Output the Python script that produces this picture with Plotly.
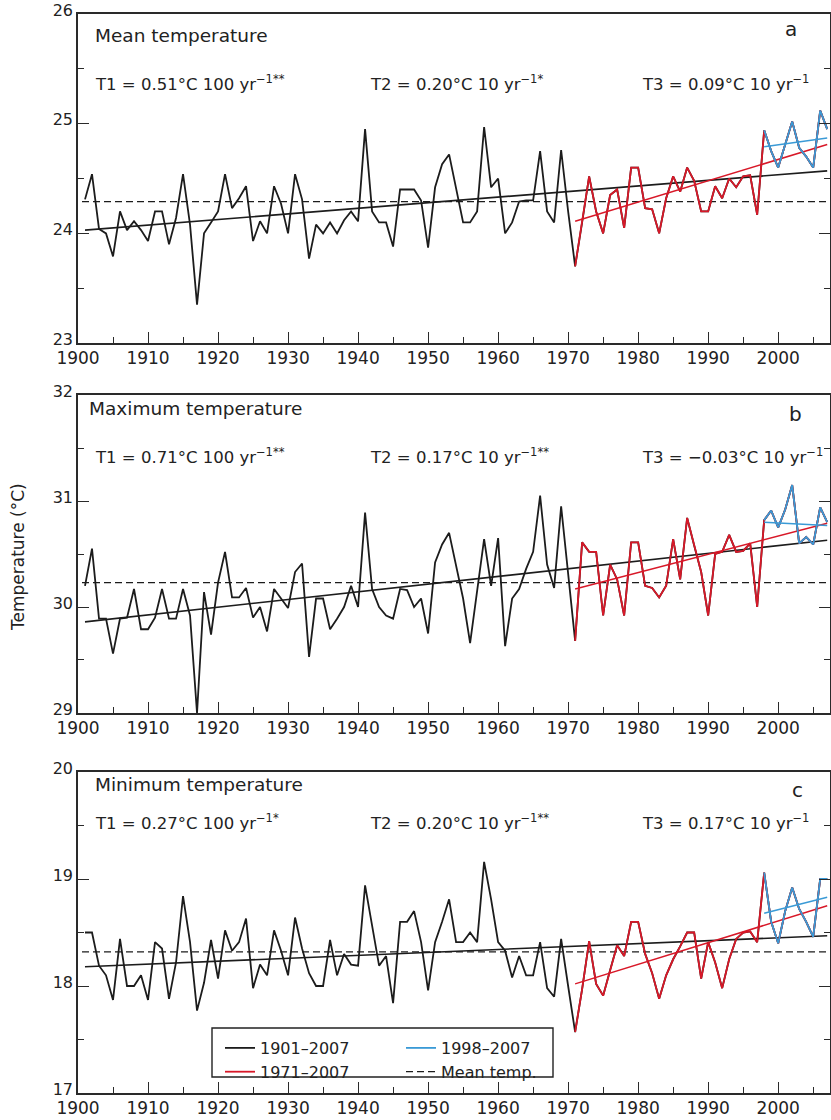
import plotly.graph_objects as go

# ---------------- data ----------------
years = list(range(1901, 2008))

mean_temp = [24.31, 24.54, 24.04, 24.00, 23.79, 24.20, 24.03, 24.11, 24.03, 23.93,
             24.20, 24.20, 23.90, 24.14, 24.54, 24.08, 23.35, 24.00, 24.10, 24.20,
             24.54, 24.23, 24.32, 24.43, 23.93, 24.11, 24.00, 24.43, 24.27, 24.00,
             24.54, 24.31, 23.77, 24.08, 24.00, 24.10, 24.00, 24.12, 24.20, 24.11,
             24.95, 24.20, 24.10, 24.10, 23.88, 24.40, 24.40, 24.40, 24.30, 23.87,
             24.42, 24.63, 24.72, 24.40, 24.10, 24.10, 24.20, 24.97, 24.42, 24.50,
             24.00, 24.10, 24.29, 24.30, 24.30, 24.75, 24.20, 24.10, 24.76, 24.20,
             23.70, 24.10, 24.52, 24.20, 24.00, 24.35, 24.40, 24.05, 24.60, 24.60,
             24.23, 24.22, 24.00, 24.32, 24.52, 24.38, 24.60, 24.48, 24.20, 24.20,
             24.43, 24.32, 24.50, 24.42, 24.52, 24.53, 24.17, 24.94, 24.75, 24.60,
             24.82, 25.02, 24.78, 24.70, 24.60, 25.12, 24.95]

max_temp = [30.20, 30.55, 29.89, 29.89, 29.56, 29.89, 29.90, 30.17, 29.79, 29.79,
            29.90, 30.17, 29.89, 29.89, 30.17, 29.92, 29.00, 30.14, 29.74, 30.23,
            30.52, 30.09, 30.09, 30.18, 29.90, 30.00, 29.77, 30.17, 30.08, 29.99,
            30.33, 30.41, 29.53, 30.08, 30.08, 29.79, 29.89, 30.00, 30.20, 30.00,
            30.89, 30.17, 30.00, 29.92, 29.89, 30.17, 30.16, 30.00, 30.08, 29.75,
            30.42, 30.59, 30.70, 30.40, 30.08, 29.66, 30.14, 30.64, 30.20, 30.65,
            29.63, 30.08, 30.17, 30.36, 30.52, 31.05, 30.40, 30.18, 30.95, 30.30,
            29.68, 30.61, 30.52, 30.52, 29.92, 30.40, 30.26, 29.92, 30.61, 30.61,
            30.20, 30.18, 30.09, 30.20, 30.64, 30.26, 30.84, 30.58, 30.33, 29.92,
            30.50, 30.52, 30.68, 30.52, 30.53, 30.60, 30.00, 30.82, 30.91, 30.75,
            30.92, 31.15, 30.60, 30.66, 30.59, 30.94, 30.80]

min_temp = [18.50, 18.50, 18.19, 18.10, 17.87, 18.44, 18.00, 18.00, 18.10, 17.87,
            18.41, 18.35, 17.88, 18.22, 18.84, 18.41, 17.77, 18.03, 18.43, 18.07,
            18.52, 18.33, 18.41, 18.63, 17.98, 18.20, 18.10, 18.52, 18.33, 18.10,
            18.64, 18.35, 18.12, 18.00, 18.00, 18.43, 18.10, 18.30, 18.20, 18.19,
            18.94, 18.55, 18.19, 18.28, 17.84, 18.60, 18.60, 18.70, 18.41, 17.96,
            18.41, 18.60, 18.81, 18.41, 18.41, 18.50, 18.41, 19.16, 18.81, 18.41,
            18.33, 18.08, 18.28, 18.10, 18.10, 18.41, 17.98, 17.90, 18.44, 18.00,
            17.57, 17.97, 18.42, 18.02, 17.91, 18.15, 18.38, 18.28, 18.60, 18.60,
            18.30, 18.12, 17.88, 18.10, 18.25, 18.37, 18.50, 18.50, 18.07, 18.41,
            18.22, 17.98, 18.25, 18.44, 18.50, 18.51, 18.41, 19.06, 18.60, 18.40,
            18.70, 18.92, 18.72, 18.60, 18.46, 19.00, 19.00]

# trend periods and trend-line end values [start, end] per panel (a, b, c)
period_full = [1901, 2007]
period_recent = [1971, 2007]
period_last = [1998, 2007]
trend_full = [[24.03, 24.57], [29.86, 30.63], [18.18, 18.47]]
trend_recent = [[24.11, 24.81], [30.17, 30.79], [18.02, 18.75]]
trend_last = [[24.79, 24.87], [30.80, 30.77], [18.68, 18.83]]
mean_level = [24.29, 30.23, 18.32]

panel_titles = ["Mean temperature", "Maximum temperature", "Minimum temperature"]
panel_letters = ["a", "b", "c"]
t1_labels = ["T1 = 0.51°C 100 yr<sup>−1**</sup>", "T1 = 0.71°C 100 yr<sup>−1**</sup>",
             "T1 = 0.27°C 100 yr<sup>−1*</sup>"]
t2_labels = ["T2 = 0.20°C 10 yr<sup>−1*</sup>", "T2 = 0.17°C 10 yr<sup>−1**</sup>",
             "T2 = 0.20°C 10 yr<sup>−1**</sup>"]
t3_labels = ["T3 = 0.09°C 10 yr<sup>−1</sup>", "T3 = −0.03°C 10 yr<sup>−1</sup>",
             "T3 = 0.17°C 10 yr<sup>−1</sup>"]
y_ranges = [[23, 26], [29, 32], [17, 20]]
x_ticks = list(range(1900, 2001, 10))
legend_names = ["1901–2007", "1971–2007", "1998–2007", "Mean temp."]

# ---------------- styling ----------------
W, H = 831, 1120
ML, MR = 78, 1
FONT = "DejaVu Sans, Verdana, Arial, sans-serif"
BLACK = "#1c1c1c"
RED = "#d81828"
BLUE = "#3a9ad6"
series = [mean_temp, max_temp, min_temp]
domains = [[0.6937, 0.9875], [0.3634, 0.6473], [0.0241, 0.3107]]


def px(xp):
    return (xp - ML) / (W - ML - MR)


def py(yp):
    return 1 - yp / H


fig = go.Figure()

for i in range(3):
    xa = "x" if i == 0 else f"x{i+1}"
    ya = "y" if i == 0 else f"y{i+1}"
    vals = series[i]
    show = (i == 2)
    rec = [(y, v) for y, v in zip(years, vals) if y >= period_recent[0]]
    last = [(y, v) for y, v in zip(years, vals) if y >= period_last[0]]

    fig.add_trace(go.Scatter(x=years, y=vals, mode="lines", xaxis=xa, yaxis=ya,
                             line=dict(color=BLACK, width=1.8), name=legend_names[0],
                             showlegend=show, legend="legend", legendrank=1, hoverinfo="skip"))
    fig.add_trace(go.Scatter(x=period_full, y=trend_full[i], mode="lines", xaxis=xa, yaxis=ya,
                             line=dict(color=BLACK, width=1.6), showlegend=False, hoverinfo="skip"))
    fig.add_trace(go.Scatter(x=[years[0] - 2, years[-1] + 2], y=[mean_level[i]] * 2, mode="lines",
                             xaxis=xa, yaxis=ya, line=dict(color=BLACK, width=1.3, dash="7px,4px"),
                             name=legend_names[3], showlegend=show, legend="legend2", legendrank=4,
                             hoverinfo="skip"))
    fig.add_trace(go.Scatter(x=[r[0] for r in rec], y=[r[1] for r in rec], mode="lines",
                             xaxis=xa, yaxis=ya, line=dict(color=RED, width=1.8),
                             name=legend_names[1], showlegend=show, legend="legend", legendrank=2,
                             hoverinfo="skip"))
    fig.add_trace(go.Scatter(x=period_recent, y=trend_recent[i], mode="lines", xaxis=xa, yaxis=ya,
                             line=dict(color=RED, width=1.5), showlegend=False, hoverinfo="skip"))
    fig.add_trace(go.Scatter(x=[r[0] for r in last], y=[r[1] for r in last], mode="lines",
                             xaxis=xa, yaxis=ya, line=dict(color=BLUE, width=1.8),
                             name=legend_names[2], showlegend=show, legend="legend2", legendrank=3,
                             hoverinfo="skip"))
    fig.add_trace(go.Scatter(x=period_last, y=trend_last[i], mode="lines", xaxis=xa, yaxis=ya,
                             line=dict(color=BLUE, width=1.5), showlegend=False, hoverinfo="skip"))

axis_common = dict(showgrid=False, zeroline=False, linecolor="#2a2a2a", linewidth=1.6,
                   ticks="inside", tickcolor="#2a2a2a", tickwidth=1.3, automargin=False,
                   ticklabeloverflow="allow")
layout = dict(width=W, height=H, margin=dict(l=ML, r=MR, t=0, b=0, autoexpand=False),
              paper_bgcolor="white", plot_bgcolor="white", hovermode=False,
              font=dict(family=FONT, color="#222"), showlegend=True)

for i in range(3):
    xk = "xaxis" if i == 0 else f"xaxis{i+1}"
    yk = "yaxis" if i == 0 else f"yaxis{i+1}"
    ya = "y" if i == 0 else f"y{i+1}"
    xa = "x" if i == 0 else f"x{i+1}"
    layout[xk] = dict(axis_common, domain=[0, 1], anchor=ya, range=[1900, 2007.4],
                      tickvals=x_ticks, ticklen=11, mirror=True, ticklabelstandoff=-1,
                      tickfont=dict(family=FONT, size=17, color="#222"),
                      minor=dict(dtick=5, tick0=1900, ticklen=6, ticks="inside",
                                 tickcolor="#2a2a2a", tickwidth=1.3))
    layout[yk] = dict(axis_common, domain=domains[i], anchor=xa, range=y_ranges[i],
                      dtick=1, ticklen=11, mirror="ticks", ticklabelshift=-4,
                      tickfont=dict(family=FONT, size=16, color="#222"),
                      minor=dict(dtick=0.5, ticklen=6, ticks="inside",
                                 tickcolor="#2a2a2a", tickwidth=1.3))

fig.update_layout(**layout)

# panel texts
title_pos = [(93, 35), (87, 409), (93, 784)]
letter_pos = [(791, 29), (795, 414), (797, 790)]
t_y = [83, 456, 822]
ann = []
for i in range(3):
    ann.append(dict(text=panel_titles[i], x=px(title_pos[i][0]), y=py(title_pos[i][1]),
                    xref="paper", yref="paper",
                    xanchor="left", yanchor="middle", showarrow=False,
                    font=dict(family=FONT, size=18.5, color="#222")))
    ann.append(dict(text=panel_letters[i], x=px(letter_pos[i][0]), y=py(letter_pos[i][1]),
                    xref="paper", yref="paper",
                    xanchor="center", yanchor="middle", showarrow=False,
                    font=dict(family=FONT, size=20, color="#222")))
    for txt, xx in zip([t1_labels[i], t2_labels[i], t3_labels[i]], [93, 368, 640]):
        ann.append(dict(text=txt, x=px(xx), y=py(t_y[i]), xref="paper", yref="paper",
                        xanchor="left", yanchor="middle",
                        showarrow=False, font=dict(family=FONT, size=16.5, color="#222")))
ann.append(dict(text="Temperature (°C)", x=px(18), y=py(557), xref="paper", yref="paper",
                textangle=-90, xanchor="center", yanchor="middle", showarrow=False,
                font=dict(family=FONT, size=17, color="#222")))
fig.update_layout(annotations=ann)

# legend (two columns inside one box)
leg_common = dict(bgcolor="rgba(0,0,0,0)", borderwidth=0, font=dict(family=FONT, size=16, color="#222"),
                  xanchor="left", yanchor="top", tracegroupgap=0, itemwidth=30)
fig.update_layout(legend=dict(leg_common, x=px(220), y=py(1031)),
                  legend2=dict(leg_common, x=px(401), y=py(1031)))
fig.add_shape(type="rect", xref="paper", yref="paper", x0=px(212), x1=px(553),
              y0=py(1077), y1=py(1028), line=dict(color="#222", width=1.4),
              fillcolor="rgba(0,0,0,0)")

fig.write_html("out.html")
